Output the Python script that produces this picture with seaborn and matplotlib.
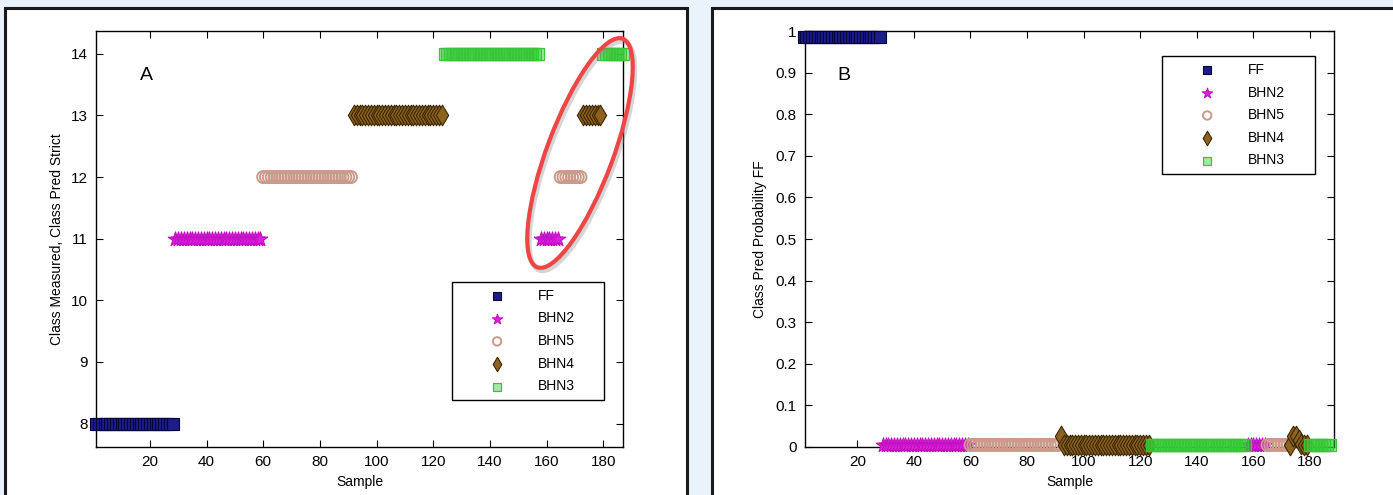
import numpy as np
import pandas as pd
import seaborn as sns
import matplotlib.pyplot as plt
from matplotlib.patches import Rectangle, Ellipse
from matplotlib.transforms import IdentityTransform

# class segments along the sample axis (first sample, last sample, class name)
seg_start = [1, 29, 60, 92, 124, 158, 165, 173, 180]
seg_end = [28, 59, 91, 123, 157, 164, 172, 179, 187]
seg_class = ["FF", "BHN2", "BHN5", "BHN4", "BHN3", "BHN2", "BHN5", "BHN4", "BHN3"]

# panel A: class code measured / predicted
class_names = ["FF", "BHN2", "BHN5", "BHN4", "BHN3"]
class_codes = [8, 11, 12, 13, 14]

# panel B: predicted FF probability per segment, plus a few readings that stand out
seg_prob = [0.985, 0.004, 0.005, 0.004, 0.005, 0.004, 0.005, 0.005, 0.005]
prob_sample = [92, 174, 175, 176, 177]
prob_value = [0.026, 0.027, 0.026, 0.018, 0.008]

# marker look per class: marker, size, face, edge, edge width
styles = {
    "FF": ("s", 68, "#1c1c8a", "#05053a", 0.8),
    "BHN2": ("*", 120, "#e020e0", "#c010c0", 0.8),
    "BHN5": ("o", 75, "none", "#cc9a8a", 1.4),
    "BHN4": ("d", 110, "#8c6220", "#3a2600", 0.8),
    "BHN3": ("s", 85, (0.2, 0.8, 0.2, 0.45), "#3ac43a", 0.9),
}

rows = []
for a, b, c, p in zip(seg_start, seg_end, seg_class, seg_prob):
    for s in range(a, b + 1):
        rows.append((s, c, class_codes[class_names.index(c)], p))
df = pd.DataFrame(rows, columns=["sample", "cls", "code", "prob"])
for s, v in zip(prob_sample, prob_value):
    df.loc[df["sample"] == s, "prob"] = v

sns.set_theme(style="white")
plt.rcParams["font.family"] = ["Liberation Sans", "DejaVu Sans"]
plt.rcParams["text.color"] = "black"
plt.rcParams["axes.labelcolor"] = "black"

W, H = 1393, 495
fig = plt.figure(figsize=(W / 100, H / 100), dpi=100, facecolor="#e9f2fa")

# slide frames around the two panels
for x0, x1 in [(5, 687), (712, 1400)]:
    fig.patches.append(Rectangle((x0 / W, -0.1), (x1 - x0) / W, (H - 8) / H + 0.1,
                                 transform=fig.transFigure, facecolor="white",
                                 edgecolor="#1a1a1a", linewidth=2.2, zorder=-5))

ax_a = fig.add_axes([96 / W, 48 / H, 527 / W, 416 / H])
ax_b = fig.add_axes([805 / W, 48 / H, 529 / W, 416 / H])

tick_font = ["Liberation Sans Narrow", "Liberation Sans", "DejaVu Sans"]


def draw(ax, ycol):
    for name in class_names:
        m, size, fc, ec, lw = styles[name]
        sub = df[df["cls"] == name]
        first = True
        for a, b, c in zip(seg_start, seg_end, seg_class):
            if c != name:
                continue
            part = sub[(sub["sample"] >= a) & (sub["sample"] <= b)]
            sns.scatterplot(data=part, x="sample", y=ycol, marker=m, s=size,
                            color=ec, linewidth=lw, ax=ax, clip_on=False,
                            label=name if first else None, zorder=3)
            coll = ax.collections[-1]
            coll.set_facecolor(fc)
            coll.set_edgecolor(ec)
            first = False
    for sp in ax.spines.values():
        sp.set_color("black")
        sp.set_linewidth(1.0)
    ax.tick_params(direction="in", length=5, width=0.8, top=True, right=True,
                   bottom=True, left=True, labelsize=11, colors="black", pad=6)
    for lab in ax.get_xticklabels() + ax.get_yticklabels():
        lab.set_family(tick_font)
    ax.set_xlabel("Sample", fontsize=10, labelpad=4)
    ax.grid(False)


ax_a.set_xlim(1, 187)
ax_a.set_ylim(7.62, 14.37)
ax_a.set_xticks([20, 40, 60, 80, 100, 120, 140, 160, 180])
ax_a.set_yticks([8, 9, 10, 11, 12, 13, 14])
draw(ax_a, "code")
ax_a.set_ylabel("Class Measured, Class Pred Strict", fontsize=10, labelpad=5)
ax_a.text(0.083, 0.893, "A", transform=ax_a.transAxes, fontsize=14, va="center")

ax_b.set_xlim(1.5, 188.5)
ax_b.set_ylim(0, 1)
ax_b.set_xticks([20, 40, 60, 80, 100, 120, 140, 160, 180])
ax_b.set_yticks([0, 0.1, 0.2, 0.3, 0.4, 0.5, 0.6, 0.7, 0.8, 0.9, 1])
ax_b.set_yticklabels(["0", "0.1", "0.2", "0.3", "0.4", "0.5", "0.6", "0.7", "0.8", "0.9", "1"])
draw(ax_b, "prob")
ax_b.set_ylabel("Class Pred Probability FF", fontsize=10, labelpad=6)
ax_b.text(0.062, 0.893, "B", transform=ax_b.transAxes, fontsize=14, va="center")

for ax, anchor in [(ax_a, (0.6755, 0.108, 0.2885, 0.289)), (ax_b, (0.675, 0.654, 0.289, 0.286))]:
    leg = ax.legend(loc="upper left", bbox_to_anchor=anchor, mode="expand",
                    borderaxespad=0, fontsize=10, frameon=True, fancybox=False,
                    handlelength=5.5, handletextpad=0.15, labelspacing=0.62,
                    borderpad=0.5, scatterpoints=1, markerscale=0.7,
                    labelcolor="black")
    leg.get_frame().set_edgecolor("black")
    leg.get_frame().set_linewidth(1.0)
    leg.get_frame().set_facecolor("white")
    leg.get_frame().set_alpha(1)

# red ellipse drawn on the slide over panel A
cx, cy = 580, 495 - 153
shadow = Ellipse((cx + 2, cy - 3), 244, 66, angle=69.5, transform=IdentityTransform(),
                 fill=False, edgecolor="#888888", linewidth=3.5, alpha=0.35, zorder=10)
ring = Ellipse((cx, cy), 244, 66, angle=69.5, transform=IdentityTransform(),
               fill=False, edgecolor="#ef4545", linewidth=3, zorder=11)
fig.patches.extend([shadow, ring])

fig.savefig("out.png", dpi=100, facecolor=fig.get_facecolor())
